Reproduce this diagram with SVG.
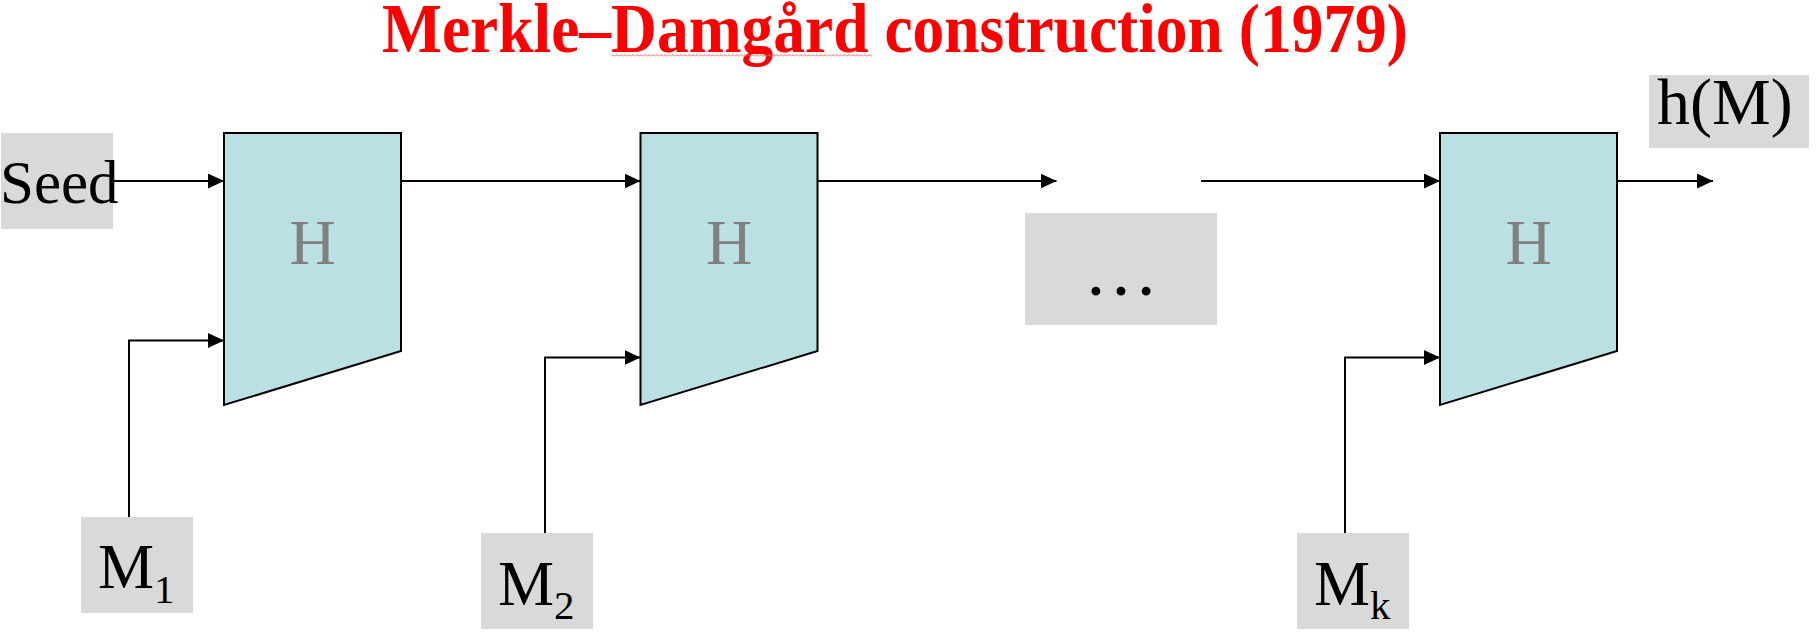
<svg xmlns="http://www.w3.org/2000/svg" width="1816" height="639" viewBox="0 0 1816 639">
<style>
  .lbl { fill: #D9D9D9; }
  .hbox { fill: #BBE0E3; stroke: #000; stroke-width: 2; stroke-linejoin: miter; }
  .htxt { font-family: "Liberation Serif", "Times New Roman", serif; font-size: 64px; fill: #808080; text-anchor: middle; }
  .txt { font-family: "Liberation Serif", "Times New Roman", serif; font-size: 63px; fill: #000; }
  .sub { font-size: 41px; }
  .conn { fill: none; stroke: #000; stroke-width: 2; marker-end: url(#arr); }
  .title { font-family: "Liberation Serif", "Times New Roman", serif; font-weight: bold; font-size: 69px; fill: #FF0000; }
</style>
<defs>
  <marker id="arr" markerUnits="userSpaceOnUse" markerWidth="16" markerHeight="15" refX="16" refY="7.5" orient="auto">
    <path d="M0,0 L16,7.5 L0,15 z" fill="#000"/>
  </marker>
  <pattern id="squiggle" patternUnits="userSpaceOnUse" x="611" y="54" width="4" height="3">
    <path d="M0,2.5 L2,0.5 L4,2.5" fill="none" stroke="#F06060" stroke-width="1"/>
  </pattern>
</defs>
<rect width="1816" height="639" fill="#FFFFFF"/>

<g id="title">
  <text class="title" x="382" y="52" textLength="1026" lengthAdjust="spacingAndGlyphs">Merkle–Damgård construction (1979)</text>
  <rect x="611" y="54" width="261" height="3" fill="url(#squiggle)"/>
</g>

<g id="connectors">
  <path class="conn" d="M113,181 H224"/>
  <path class="conn" d="M401,181 H640.5"/>
  <path class="conn" d="M817.5,181 H1056.5"/>
  <path class="conn" d="M1201,181 H1440"/>
  <path class="conn" d="M1617,181 H1713"/>
  <path class="conn" d="M129,517 V340.5 H224"/>
  <path class="conn" d="M545,533 V357.5 H640.5"/>
  <path class="conn" d="M1345,533 V357.5 H1440"/>
</g>

<g id="seed">
  <rect class="lbl" x="1" y="133" width="112" height="96"/>
  <text class="txt" x="0" y="203" style="font-size:61px">Seed</text>
</g>

<g id="h1">
  <polygon class="hbox" points="224,133 401,133 401,351 224,405"/>
  <text class="htxt" x="312.5" y="264">H</text>
</g>

<g id="h2">
  <polygon class="hbox" points="640.5,133 817.5,133 817.5,351 640.5,405"/>
  <text class="htxt" x="729" y="264">H</text>
</g>

<g id="h3">
  <polygon class="hbox" points="1440,133 1617,133 1617,351 1440,405"/>
  <text class="htxt" x="1528.5" y="264">H</text>
</g>

<g id="dots">
  <rect class="lbl" x="1025" y="213" width="192" height="112"/>
  <text class="txt" x="1121" y="295" text-anchor="middle" style="font-size:75px">…</text>
</g>

<g id="hM">
  <rect class="lbl" x="1649" y="75" width="160" height="73"/>
  <text class="txt" x="1657" y="124" style="font-size:66px">h(M)</text>
</g>

<g id="m1">
  <rect class="lbl" x="81" y="517" width="112" height="96"/>
  <text class="txt" x="98" y="588">M<tspan class="sub" dy="15">1</tspan></text>
</g>

<g id="m2">
  <rect class="lbl" x="481" y="533" width="112" height="96"/>
  <text class="txt" x="498" y="605">M<tspan class="sub" dy="14">2</tspan></text>
</g>

<g id="mk">
  <rect class="lbl" x="1297" y="533" width="112" height="96"/>
  <text class="txt" x="1314" y="605">M<tspan class="sub" dy="14">k</tspan></text>
</g>
</svg>
